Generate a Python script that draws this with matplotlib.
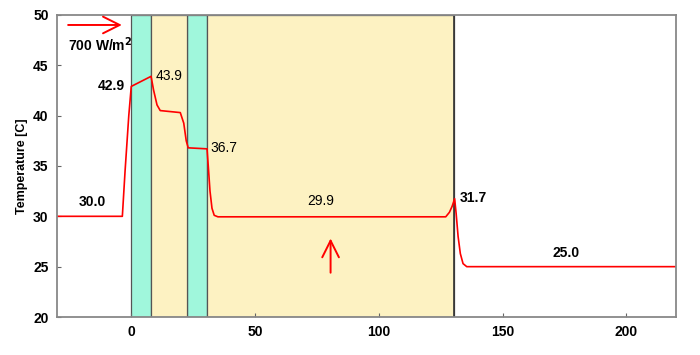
import numpy as np
import matplotlib.pyplot as plt

plt.rcParams['font.family'] = ['Liberation Sans', 'DejaVu Sans']

# temperature trace (time, temperature)
t = [-30, -3.6, -2.5, -1.0, 0.0, 8.0, 9.0, 10.4, 11.7, 19.8, 21.2, 22.2, 23.0, 30.6, 31.1, 31.8, 32.6,
     33.5, 35.0, 127.0, 128.5, 129.6, 130.6, 131.2, 132.0, 132.9, 134.0, 135.5, 220]
temp = [30.0, 30.0, 34.5, 40.0, 42.9, 43.9, 42.55, 41.06, 40.5, 40.3, 39.25, 37.5, 36.8, 36.7, 35.0, 32.5, 30.8,
        30.1, 29.95, 29.95, 30.4, 31.0, 31.75, 30.3, 28.0, 26.3, 25.3, 25.0, 25.0]

# shaded periods
cyan_spans = [(0, 8), (22.5, 30.7)]
yellow_spans = [(8, 22.5), (30.7, 130.5)]

# value labels
lab_x = [-15.8, -2.5, 10.0, 32.0, 76.5, 132.5, 175.5]
lab_y = [31.4, 42.9, 43.9, 36.8, 31.5, 31.8, 26.4]
lab_txt = ['30.0', '42.9', '43.9', '36.7', '29.9', '31.7', '25.0']
lab_bold = [True, True, False, False, False, True, True]
lab_ha = ['center', 'right', 'left', 'left', 'center', 'left', 'center']

fig = plt.figure(figsize=(7, 3.55), dpi=100)
ax = fig.add_axes([0.0814, 0.107, 0.8843, 0.851])

for a, b in cyan_spans:
    ax.axvspan(a, b, facecolor='#a0f7dc', edgecolor='#555555', linewidth=0.9)
for a, b in yellow_spans:
    ax.axvspan(a, b, facecolor='#fdf2c2', edgecolor='#555555', linewidth=0.9)
ax.axvline(130.5, color='#333333', linewidth=1.2)

ax.plot(t, temp, color='red', linewidth=1.2)

for x, y, s, b, ha in zip(lab_x, lab_y, lab_txt, lab_bold, lab_ha):
    ax.text(x, y, s, ha=ha, va='center', fontsize=10,
            fontweight='bold' if b else 'normal', color='black')

# irradiance arrows
arrow = dict(arrowstyle='->, head_length=0.6, head_width=0.3', color='red', lw=1.4,
             mutation_scale=20, shrinkA=0, shrinkB=0)
ax.annotate('', xy=(-3.8, 49.0), xytext=(-25.5, 49.0), arrowprops=arrow)
ax.text(-25.5, 47.0, '700 W/m$^{\\mathbf{2}}$', fontsize=10, fontweight='bold', va='center')
ax.annotate('', xy=(80.5, 27.8), xytext=(80.5, 24.4), arrowprops=arrow)

ax.set_xlim(-30, 220)
ax.set_ylim(20, 50)
ax.set_xticks([0, 50, 100, 150, 200])
ax.set_yticks([20, 25, 30, 35, 40, 45, 50])
ax.tick_params(direction='in', length=3, labelsize=10, color='#666666', pad=6)
for lbl in ax.get_xticklabels() + ax.get_yticklabels():
    lbl.set_fontweight('bold')
ax.set_ylabel('Temperature [C]', fontsize=9, fontweight='bold')
for sp in ax.spines.values():
    sp.set_color('#888888')
    sp.set_linewidth(1.3)

fig.savefig('out.png', dpi=100)
